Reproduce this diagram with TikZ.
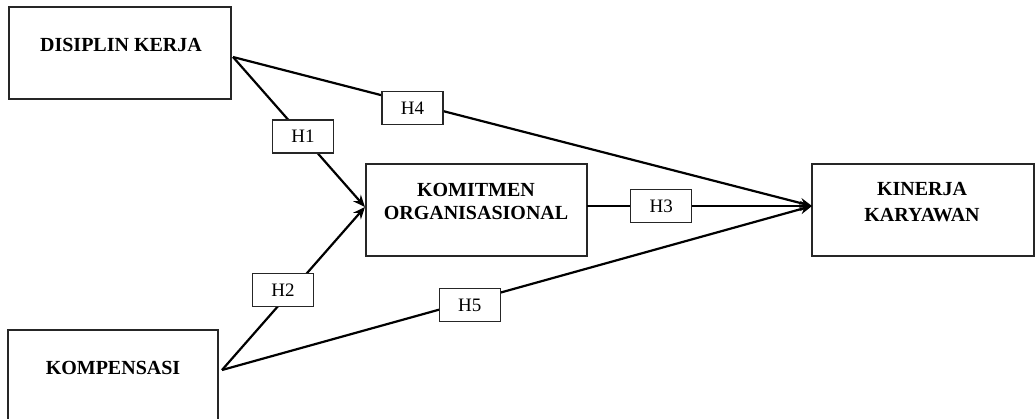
\documentclass[tikz,border=0pt]{standalone}
\usepackage{fontspec}
\setmainfont{Liberation Serif}
\usetikzlibrary{arrows.meta}
\begin{document}
\begin{tikzpicture}[x=1pt,y=-1pt,
  varbox/.style={draw=black!85, line width=1.5pt, fill=white, inner sep=0pt},
  vartext/.style={font=\fontsize{20}{23}\selectfont\bfseries, align=center, inner sep=0pt},
  hbox/.style={draw=black!85, line width=1.2pt, fill=white, inner sep=0pt, minimum width=61, minimum height=33, font=\fontsize{19}{22}\selectfont},
  path/.style={line width=2.2pt, black},
  arr/.style={path, -{Stealth[length=12pt,width=10pt]}}
]
\useasboundingbox (0,0) rectangle (1035,418);
% boxes
\node[varbox, minimum width=222, minimum height=92] (dk) at (120,53) {};
\node[vartext] (dkt) at (121,45) {DISIPLIN KERJA};
\node[varbox, minimum width=210, minimum height=100] (kp) at (113,380) {};
\node[vartext] (kpt) at (113,368) {KOMPENSASI};
\node[varbox, minimum width=221, minimum height=92] (ko) at (476.5,210) {};
\node[vartext, font=\fontsize{20}{23}\selectfont\bfseries] (kot) at (476,201) {KOMITMEN\\ORGANISASIONAL};
\node[varbox, minimum width=222, minimum height=92] (kk) at (923,210) {};
\node[vartext, font=\fontsize{20}{26}\selectfont\bfseries] (kkt) at (922,202) {KINERJA\\KARYAWAN};
% anchor points
\coordinate (dkout) at (233,57);
\coordinate (kpout) at (222,370);
\coordinate (koin) at (365,207);
\coordinate (koout) at (587,206);
\coordinate (kkin) at (812,206);
% connectors
\draw[arr] (dkout) -- (koin) node[hbox, pos=0.53] (h1) {H1};
\draw[arr] (kpout) -- (koin) node[hbox, pos=0.49, xshift=-9] (h2) {H2};
\draw[arr] (koout) -- (kkin) node[hbox, pos=0.33] (h3) {H3};
\draw[arr] (dkout) -- (kkin) node[hbox, pos=0.31, yshift=-5] (h4) {H4};
\draw[arr] (kpout) -- (kkin) node[hbox, pos=0.42, yshift=-4] (h5) {H5};
\end{tikzpicture}
\end{document}
